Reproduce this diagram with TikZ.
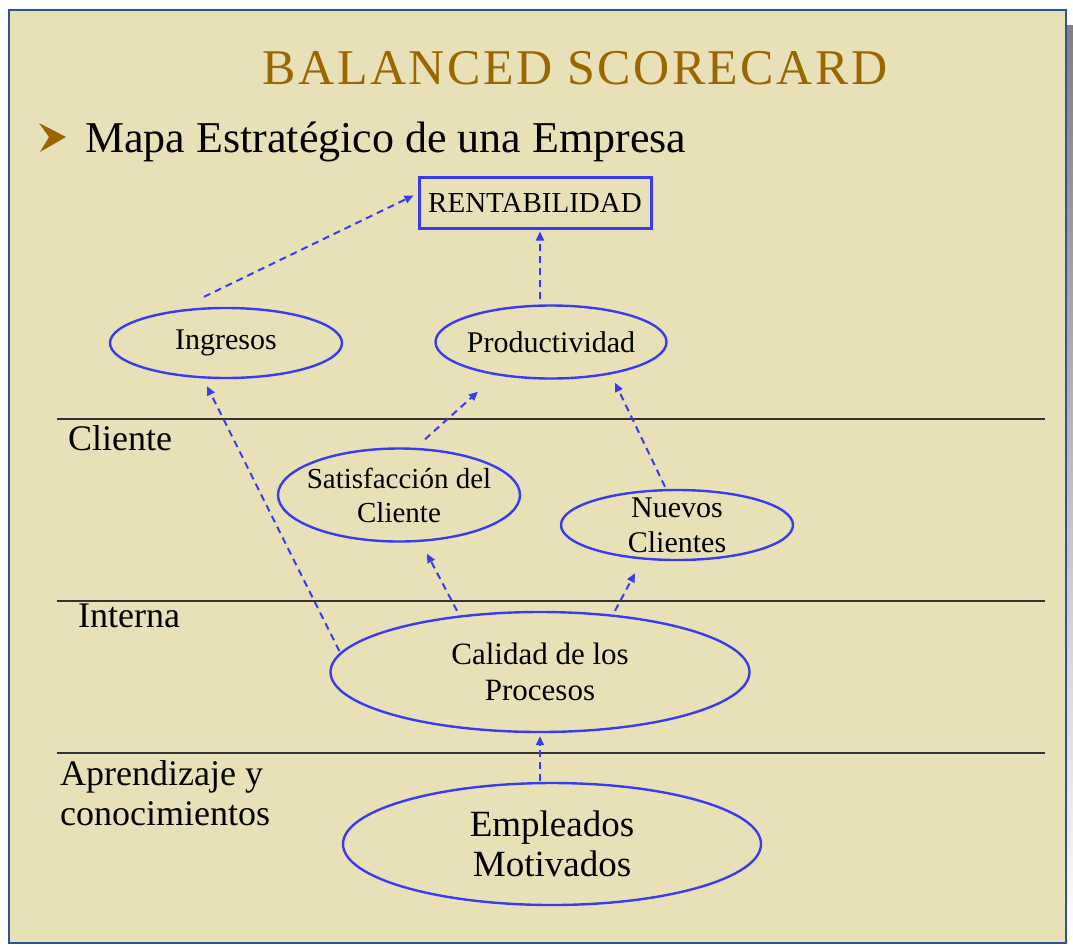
\documentclass[tikz,border=0pt]{standalone}
\usepackage{fontspec}
\setmainfont{Liberation Serif}
\newfontfamily\titlefont[LetterSpace=5]{Liberation Serif}
\usetikzlibrary{shapes.geometric}
\usetikzlibrary{arrows.meta}

\definecolor{paper}{RGB}{232,225,184}
\definecolor{gold}{RGB}{153,102,0}
\definecolor{frameblue}{RGB}{46,84,145}
\definecolor{ovalblue}{RGB}{58,58,240}
\definecolor{shade}{RGB}{190,190,190}

\tikzset{
  oval/.style={ellipse, draw=ovalblue, line width=2.4pt, inner sep=-12pt, align=center},
  goalbox/.style={rectangle, draw=ovalblue, line width=3pt, inner sep=0pt},
  flow/.style={ovalblue, line width=2pt, dash pattern=on 7pt off 5pt,
    -{Triangle[length=9pt,width=8pt]}},
  band/.style={line width=2pt, black!80},
  lane/.style={anchor=base west, align=left, font=\fontsize{36}{40}\selectfont},
}

\begin{document}
\begin{tikzpicture}[x=1pt,y=-1pt]
  \useasboundingbox (0,0) rectangle (1073,946);
  % slide
  \fill[shade] (24,25) rectangle (1073,946);
  \filldraw[fill=paper, draw=frameblue, line width=2pt] (9,10) rectangle (1066,943);

  % headings
  \node[font=\titlefont\fontsize{50}{60}\selectfont, text=gold, anchor=base] (title) at (575,84) {BALANCED SCORECARD};
  \fill[gold] (39,123) -- (66,137) -- (40,152) -- (49,137) -- cycle;
  \node[font=\fontsize{44}{50}\selectfont, anchor=base west, inner sep=0pt] (sub) at (85,152) {Mapa Estratégico de una Empresa};

  % perspectives
  \draw[band] (57,419) -- (1045,419);
  \draw[band] (57,601) -- (1045,601);
  \draw[band] (57,753) -- (1045,753);
  \node[lane, inner sep=0pt] (cli) at (68,450) {Cliente};
  \node[lane, inner sep=0pt] (int) at (78,627) {Interna};
  \node[lane, inner sep=0pt] (apr) at (60,825) {Aprendizaje y\\conocimientos};

  % objectives
  \node[goalbox, minimum width=232pt, minimum height=51pt, font=\fontsize{29}{34}\selectfont] (rent) at (535,202.5) {RENTABILIDAD};
  \node[oval, minimum width=232pt, minimum height=70pt, font=\fontsize{30}{34}\selectfont] (ing) at (226,343) {Ingresos};
  \node[oval, minimum width=231pt, minimum height=73pt, font=\fontsize{30}{34}\selectfont] (prod) at (551,342) {Productividad};
  \node[oval, minimum width=242pt, minimum height=93pt, font=\fontsize{29}{34}\selectfont] (sat) at (399,495) {Satisfacción del\\Cliente};
  \node[oval, minimum width=232pt, minimum height=70pt, font=\fontsize{30}{35}\selectfont] (nue) at (677,525) {Nuevos\\Clientes};
  \node[oval, minimum width=419pt, minimum height=120pt, font=\fontsize{31}{36}\selectfont] (cal) at (540,672) {Calidad de los\\Procesos};
  \node[oval, minimum width=418pt, minimum height=122pt, font=\fontsize{37}{40}\selectfont] (emp) at (552,844) {Empleados\\Motivados};

  % cause and effect
  \draw[flow] ([shift={(-22,-10)}]ing.north) -- ([shift={(-4,-7)}]rent.west);
  \draw[flow] ([shift={(-11,-5)}]prod.north) -- ([shift={(5,2)}]rent.south);
  \draw[flow] ([shift={(26,-8)}]sat.north) -- ([shift={(-73,12)}]prod.south);
  \draw[flow] ([shift={(-12,-2)}]nue.north) -- ([shift={(64,3)}]prod.south);
  \draw[flow] ([shift={(10,-21)}]cal.west) -- ([shift={(-19,7)}]ing.south);
  \draw[flow] ([shift={(-83,0)}]cal.north) -- ([shift={(28,11)}]sat.south);
  \draw[flow] ([shift={(75,0)}]cal.north) -- ([shift={(-42,12)}]nue.south);
  \draw[flow] ([shift={(-12,-1)}]emp.north) -- ([shift={(0,3)}]cal.south);
\end{tikzpicture}
\end{document}
